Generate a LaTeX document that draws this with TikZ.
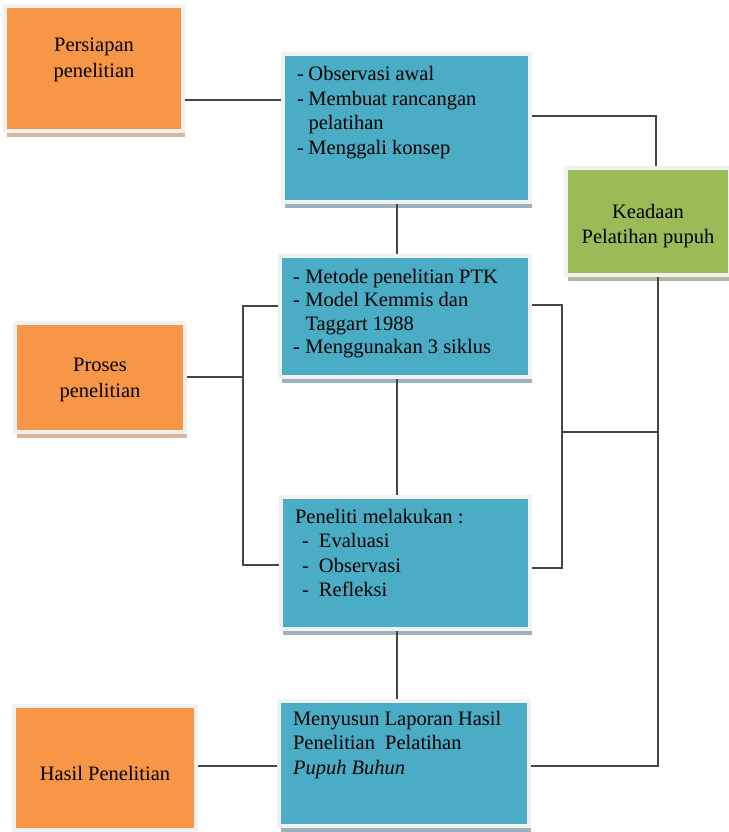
\documentclass[tikz,border=0pt]{standalone}
\usepackage{fontspec}
\setmainfont{Liberation Serif}
\usetikzlibrary{shadows}
\definecolor{cOr}{HTML}{F79646}
\definecolor{cBl}{HTML}{4BACC6}
\definecolor{cGr}{HTML}{9BBB59}
\definecolor{cOrSh}{HTML}{D9B79C}
\definecolor{cBlSh}{HTML}{9DB2BA}
\definecolor{cGrSh}{HTML}{AEB9A0}
\definecolor{cFrame}{HTML}{F1F1F1}
\definecolor{cLine}{HTML}{454545}
\newcommand\boxtxt[4]{\parbox[c][#2][t]{#1}{\vspace*{#3}#4}}
\newcommand\dashitem[1]{\makebox[#1][l]{-}}
\tikzset{
  box/.style={inner sep=0pt, draw=cFrame, line width=4pt,
    font=\fontsize{20.5}{24.5}\selectfont},
  orbox/.style={box, fill=cOr, drop shadow={shadow xshift=1.5pt, shadow yshift=-6pt, fill=cOrSh, opacity=1}},
  blbox/.style={box, fill=cBl, drop shadow={shadow xshift=1.5pt, shadow yshift=-6pt, fill=cBlSh, opacity=1}},
  grbox/.style={box, fill=cGr, drop shadow={shadow xshift=1.5pt, shadow yshift=-6pt, fill=cGrSh, opacity=1}},
  conn/.style={draw=cLine, line width=1.6pt}
}
\begin{document}
\begin{tikzpicture}[x=1pt,y=-1pt]
\useasboundingbox (0,0) rectangle (728,832);
\fill[white] (0,0) rectangle (728,832);

% boxes
\node[orbox] (pers) at (94,68.5) {\boxtxt{178pt}{125pt}{32pt}{\centering\setlength\baselineskip{26pt}Persiapan\\penelitian\par}};
\node[blbox] (b1) at (406.5,128) {\boxtxt{247pt}{148pt}{12.7pt}{\raggedright\leftskip=14pt
  \dashitem{11.5pt}Observasi awal\\
  \dashitem{11.5pt}Membuat rancangan\\
  \hspace*{11.5pt}pelatihan\\
  \dashitem{11.5pt}Menggali konsep\par}};
\node[grbox] (green) at (648,221.5) {\boxtxt{164pt}{107pt}{36pt}{\centering\setlength\baselineskip{25pt}Keadaan\\Pelatihan pupuh\par}};
\node[blbox] (b2) at (405,316.5) {\boxtxt{250pt}{121pt}{13pt}{\raggedright\leftskip=13pt\setlength\baselineskip{23.5pt}
  \dashitem{12.5pt}Metode penelitian PTK\\
  \dashitem{12.5pt}Model Kemmis dan\\
  \hspace*{12.5pt}Taggart 1988\\
  \dashitem{12.5pt}Menggunakan 3 siklus\par}};
\node[orbox] (proses) at (100,377.5) {\boxtxt{170pt}{109pt}{35pt}{\centering\setlength\baselineskip{26pt}Proses\\penelitian\par}};
\node[blbox] (b3) at (405.5,563) {\boxtxt{249pt}{132pt}{12pt}{\raggedright\leftskip=14pt
  Peneliti melakukan :\\
  \hspace*{7pt}\dashitem{17pt}Evaluasi\\
  \hspace*{7pt}\dashitem{17pt}Observasi\\
  \hspace*{7pt}\dashitem{17pt}Refleksi\par}};
\node[orbox] (hasil) at (105,768) {\boxtxt{182pt}{124pt}{60pt}{\centering Hasil Penelitian\par}};
\node[blbox] (b4) at (404,763.5) {\boxtxt{250pt}{125pt}{10pt}{\raggedright\leftskip=14pt
  Menyusun Laporan Hasil\\
  Penelitian\ \ Pelatihan\\
  \textit{Pupuh Buhun}\par}};

% junction coordinates
\coordinate (j1) at (0,100);
\coordinate (j2) at (656,116);
\coordinate (v1) at (397,0);
\coordinate (l1) at (243,377);
\coordinate (l2) at (243,306);
\coordinate (l3) at (243,565);
\coordinate (r1) at (562,305);
\coordinate (r2) at (562,568);
\coordinate (r3) at (562,432);
\coordinate (g1) at (658,432);
\coordinate (g2) at (658,766);

% connectors
\draw[conn] (pers.east |- j1) -- (b1.west |- j1);
\draw[conn] (b1.east |- j2) -- (j2) -- (j2 |- green.north);
\draw[conn] (b1.south -| v1) -- (b2.north -| v1);
\draw[conn] (b2.south -| v1) -- (b3.north -| v1);
\draw[conn] (b3.south -| v1) -- (b4.north -| v1);
\draw[conn] (proses.east |- l1) -- (l1);
\draw[conn] (b2.west |- l2) -- (l2) -- (l3) -- (b3.west |- l3);
\draw[conn] (b2.east |- r1) -- (r1) -- (r2) -- (b3.east |- r2);
\draw[conn] (r3) -- (g1);
\draw[conn] (green.south -| g2) -- (g2) -- (b4.east |- g2);
\draw[conn] (hasil.east |- g2) -- (b4.west |- g2);
\end{tikzpicture}
\end{document}
